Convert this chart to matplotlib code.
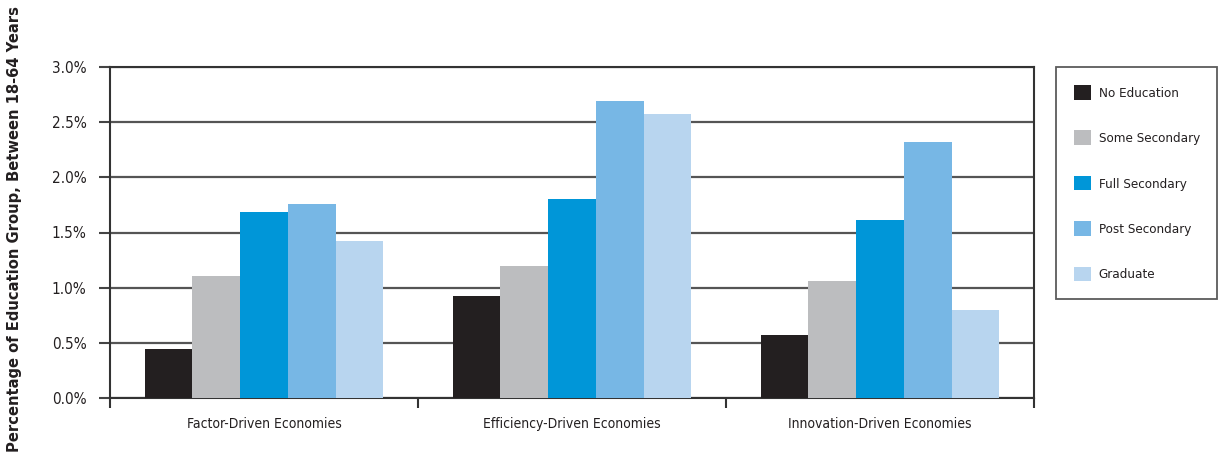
import matplotlib
matplotlib.use("Agg")
import matplotlib.pyplot as plt
import numpy as np
from matplotlib.ticker import FuncFormatter, FixedLocator

plt.rcParams['font.family'] = ['DejaVu Sans']
plt.rcParams['font.stretch'] = 'condensed'

economies = ["Factor-Driven Economies", "Efficiency-Driven Economies", "Innovation-Driven Economies"]
groups = ["No Education", "Some Secondary", "Full Secondary", "Post Secondary", "Graduate"]
no_education = [0.44, 0.92, 0.57]
some_secondary = [1.11, 1.20, 1.06]
full_secondary = [1.69, 1.80, 1.61]
post_secondary = [1.76, 2.69, 2.32]
graduate = [1.42, 2.57, 0.80]
colors = ["#231f20", "#bcbdbf", "#0096d8", "#77b7e5", "#b8d5ef"]

series = [no_education, some_secondary, full_secondary, post_secondary, graduate]

W, H = 1221, 459
fig = plt.figure(figsize=(W / 100, H / 100), dpi=100)
ax = fig.add_axes([110 / W, 1 - 398 / H, (1034 - 110) / W, (398 - 67) / H])

x = np.arange(len(economies))
width = 0.155
for i, (vals, name, c) in enumerate(zip(series, groups, colors)):
    ax.bar(x + (i - 2) * width, vals, width, color=c, label=name, zorder=3, linewidth=0)

ax.set_xlim(-0.5, 2.5)
ax.set_ylim(0, 3.0)
ax.set_yticks(np.arange(0, 3.01, 0.5))
ax.yaxis.set_major_formatter(FuncFormatter(lambda v, p: f"{v:.1f}%"))
ax.yaxis.grid(True, color="#555555", linewidth=1.6, zorder=1)
ax.set_axisbelow(True)

ax.set_xticks(x)
ax.set_xticklabels(economies)
ax.xaxis.set_minor_locator(FixedLocator([-0.5, 0.5, 1.5, 2.5]))
ax.tick_params(axis="x", which="major", length=0, pad=14, labelsize=10, labelcolor="#231f20")
ax.tick_params(axis="x", which="minor", length=7, width=1.5, color="#333333", direction="out")
ax.tick_params(axis="y", length=8, width=1.5, color="#444444", direction="out", pad=9,
               labelsize=11, labelcolor="#231f20")

for s in ax.spines.values():
    s.set_color("#333333")
    s.set_linewidth(1.5)

fig.text(15 / W, 0.5, "Percentage of Education Group, Between 18-64 Years",
         rotation=90, ha="center", va="center", fontsize=11.8, fontweight="bold",
         color="#231f20")

leg = fig.legend(loc="upper left",
                 bbox_to_anchor=(1056 / W, 1 - 298 / H, (1217 - 1056) / W, (298 - 67) / H),
                 mode="expand", borderaxespad=0, fontsize=9.6, frameon=True, fancybox=False,
                 handlelength=1.3, handleheight=1.3, handletextpad=0.55,
                 labelspacing=2.3, borderpad=1.35, labelcolor="#231f20")
leg.get_frame().set_edgecolor("#333333")
leg.get_frame().set_linewidth(1.3)

fig.savefig("out.png", dpi=100)
